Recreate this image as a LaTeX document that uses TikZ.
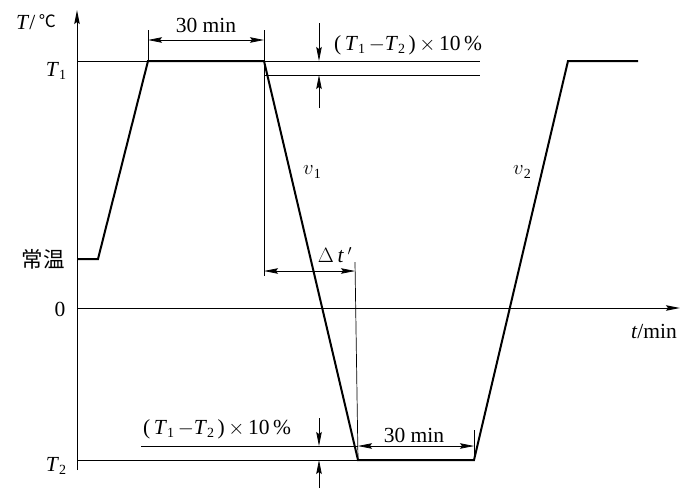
\documentclass[tikz,border=0pt]{standalone}
\usepackage{fontspec}
\setmainfont{Liberation Serif}
\newfontfamily\cjk{Noto Sans CJK SC}
\usetikzlibrary{arrows.meta}
\tikzset{
  tip/.tip={Stealth[length=14pt,width=5.5pt,inset=2pt]},
  thin line/.style={line width=0.7pt},
  thick line/.style={line width=2pt, line join=miter},
  axis/.style={line width=1pt, -tip},
  dimarrow/.style={line width=0.7pt, tip-tip},
  onearrow/.style={line width=0.7pt, -tip},
  lbl/.style={inner sep=0pt, font=\fontsize{21.5}{24}\selectfont},
}
\newcommand{\Tsub}[1]{\textit{T}\raisebox{-0.35ex}{\fontsize{14}{14}\selectfont #1}}
\newcommand{\vsub}[1]{$v$\raisebox{-0.35ex}{\fontsize{14}{14}\selectfont #1}}
\begin{document}
\begin{tikzpicture}[x=1pt,y=-1pt]
\useasboundingbox (0,0) rectangle (683,499);
% key points
\coordinate (o) at (77,308);
\coordinate (ybot) at (77,470);
\coordinate (ytop) at (77,10);
\coordinate (xend) at (680,308);
\coordinate (p0) at (77,259);
\coordinate (p1) at (98,259);
\coordinate (p2) at (148,61);
\coordinate (p3) at (264,61);
\coordinate (p4) at (358,460);
\coordinate (p5) at (474,460);
\coordinate (p6) at (568,61);
\coordinate (p7) at (638,61);
% axes
\draw[axis] (ybot) -- (ytop);
\draw[axis] (o) -- (xend);
% T1 reference lines
\coordinate (t1a) at (77,61);
\coordinate (t1b) at (480,61);
\coordinate (t1c) at (264,75);
\coordinate (t1d) at (480,75);
\draw[thin line] (t1a) -- (t1b);
\draw[thin line] (t1c) -- (t1d);
% T2 reference lines
\coordinate (t2a) at (77,460);
\coordinate (t2c) at (141,446);
\coordinate (t2d) at (358,446);
\draw[thin line] (t2a) -- (p4);
\draw[thin line] (t2c) -- (t2d);
% profile
\draw[thick line] (p0) -- (p1) -- (p2) -- (p3) -- (p4) -- (p5) -- (p6) -- (p7);
% top 30 min dimension
\coordinate (e1t) at (148,30);
\coordinate (e2t) at (264,30);
\coordinate (e2b) at (264,276);
\draw[thin line] (e1t) -- (p2);
\draw[thin line] (e2t) -- (e2b);
\coordinate (d1a) at (148,40);
\coordinate (d1b) at (264,40);
\draw[dimarrow] (d1a) -- (d1b);
\node[lbl] (m30a) at (206,25) {30 min};
% top 10% dimension
\coordinate (v1a) at (319,23);
\coordinate (v1b) at (319,61);
\coordinate (v1c) at (319,108);
\coordinate (v1d) at (319,75);
\draw[onearrow] (v1a) -- (v1b);
\draw[onearrow] (v1c) -- (v1d);
\node[lbl, anchor=west] (pct1) at (334,45) {(\,\Tsub{1}\,$-$\Tsub{2}\,)\,$\times$\,10\,\%};
% delta t'
\coordinate (e3t) at (355,262);
\draw[thin line] (e3t) -- (p4);
\coordinate (d3a) at (264,271);
\coordinate (d3b) at (355,271);
\draw[dimarrow] (d3a) -- (d3b);
\node[lbl] (dt) at (335,255) {$\Delta$\,\textit{t}\,$'$};
% v labels
\node[lbl] (v1) at (312,172) {\vsub{1}};
\node[lbl] (v2) at (522,172) {\vsub{2}};
% bottom 10% dimension
\coordinate (v2a) at (319,418);
\coordinate (v2b) at (319,446);
\coordinate (v2c) at (319,488);
\coordinate (v2d) at (319,460);
\draw[onearrow] (v2a) -- (v2b);
\draw[onearrow] (v2c) -- (v2d);
\node[lbl, anchor=west] (pct2) at (143,429) {(\,\Tsub{1}\,$-$\Tsub{2}\,)\,$\times$\,10\,\%};
% bottom 30 min dimension
\coordinate (e5t) at (474,430);
\draw[thin line] (e5t) -- (p5);
\coordinate (d5a) at (358,446);
\coordinate (d5b) at (474,446);
\draw[dimarrow] (d5a) -- (d5b);
\node[lbl] (m30b) at (414,435) {30 min};
% axis labels
\node[lbl] (ylab) at (36,22) {\textit{T}/\,\raisebox{0.2ex}{\fontsize{17}{17}\selectfont\cjk ℃}};
\node[lbl] (xlab) at (654,331) {\textit{t}/min};
\node[lbl] (zero) at (60,309) {0};
\node[lbl] (room) at (43,259) {\cjk 常温};
\node[lbl] (T1) at (56,71) {\Tsub{1}};
\node[lbl] (T2) at (56,466) {\Tsub{2}};
\end{tikzpicture}
\end{document}
